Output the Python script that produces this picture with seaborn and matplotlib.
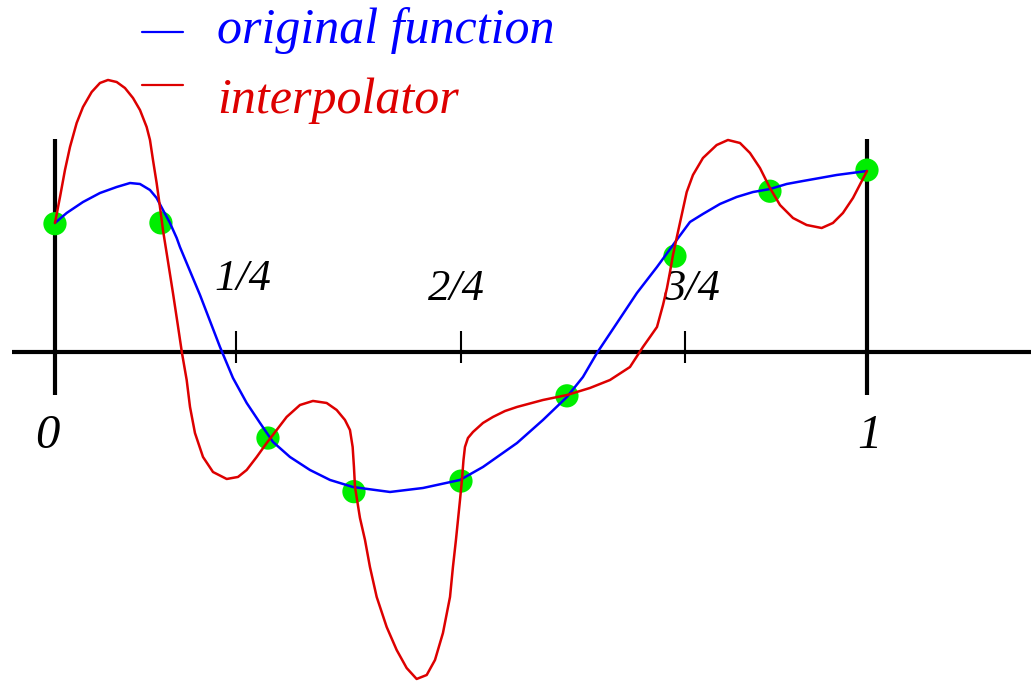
import matplotlib
matplotlib.use("Agg")
import matplotlib.pyplot as plt
import pandas as pd
import seaborn as sns

# Sample nodes (x in units of the interval [0, 1], y on the same scale)
node_x = [0.0, 0.1305, 0.2623, 0.3682, 0.5, 0.6305, 0.7635, 0.8805, 1.0]
node_y = [0.158, 0.159, -0.106, -0.172, -0.159, -0.054, 0.118, 0.198, 0.224]

# Original (smooth) function
orig_x = [0.0, 0.0144, 0.0345, 0.0554, 0.0760, 0.0924, 0.1047, 0.1170, 0.1252,
          0.1330, 0.1416, 0.1499, 0.1539, 0.1786, 0.2032, 0.2192, 0.2361, 0.2525,
          0.2685, 0.2894, 0.3140, 0.3387, 0.3670, 0.4126, 0.4532, 0.4988, 0.5271,
          0.5690, 0.6010, 0.6305, 0.6502, 0.6675, 0.6921, 0.7167, 0.7414, 0.7656,
          0.7820, 0.7980, 0.8190, 0.8395, 0.8596, 0.8805, 0.9011, 0.9212, 0.9421,
          0.9627, 1.0]
orig_y = [0.1589, 0.1712, 0.1847, 0.1958, 0.2032, 0.2081, 0.2069, 0.1995, 0.1897,
          0.1749, 0.1589, 0.1404, 0.1293, 0.0702, 0.0062, -0.0320, -0.0628, -0.0874,
          -0.1108, -0.1293, -0.1453, -0.1576, -0.1663, -0.1724, -0.1675, -0.1576, -0.1416,
          -0.1121, -0.0837, -0.0554, -0.0308, -0.0012, 0.0357, 0.0727, 0.1047, 0.1379,
          0.1601, 0.1700, 0.1823, 0.1909, 0.1970, 0.2007, 0.2069, 0.2106, 0.2143,
          0.2180, 0.2229]

# Interpolating curve through the nodes
interp_x = [0.0, 0.0062, 0.0123, 0.0185, 0.0267, 0.0345, 0.0452, 0.0554, 0.0653,
            0.0760, 0.0862, 0.0961, 0.1047, 0.1129, 0.1170, 0.1207, 0.1252, 0.1293,
            0.1330, 0.1379, 0.1453, 0.1509, 0.1564, 0.1622, 0.1663, 0.1724, 0.1823,
            0.1946, 0.2115, 0.2254, 0.2361, 0.2484, 0.2607, 0.2730, 0.2853, 0.3017,
            0.3177, 0.3346, 0.3469, 0.3571, 0.3633, 0.3666, 0.3682, 0.3695, 0.3756,
            0.3818, 0.3879, 0.3962, 0.4085, 0.4208, 0.4331, 0.4454, 0.4578, 0.4680,
            0.4778, 0.4865, 0.4901, 0.4938, 0.4963, 0.4988, 0.5012, 0.5031, 0.5049,
            0.5086, 0.5148, 0.5271, 0.5394, 0.5542, 0.5690, 0.6010, 0.6305, 0.6589,
            0.6835, 0.7081, 0.7241, 0.7328, 0.7414, 0.7488, 0.7537, 0.7574, 0.7611,
            0.7656, 0.7718, 0.7780, 0.7857, 0.7980, 0.8149, 0.8288, 0.8436, 0.8559,
            0.8682, 0.8805, 0.8929, 0.9089, 0.9257, 0.9442, 0.9581, 0.9704, 0.9828,
            1.0]
interp_y = [0.1589, 0.1909, 0.2241, 0.2525, 0.2820, 0.3017, 0.3202, 0.3313, 0.3350,
            0.3325, 0.3251, 0.3128, 0.2980, 0.2771, 0.2611, 0.2365, 0.2081, 0.1786,
            0.1502, 0.1195, 0.0727, 0.0357, -0.0012, -0.0345, -0.0677, -0.0998, -0.1293,
            -0.1478, -0.1564, -0.1539, -0.1453, -0.1293, -0.1121, -0.0961, -0.0800, -0.0653,
            -0.0603, -0.0628, -0.0714, -0.0837, -0.0961, -0.1170, -0.1416, -0.1663, -0.2044,
            -0.2315, -0.2648, -0.3017, -0.3387, -0.3670, -0.3892, -0.4027, -0.3978, -0.3793,
            -0.3461, -0.3017, -0.2648, -0.2315, -0.2069, -0.1823, -0.1576, -0.1330, -0.1170,
            -0.1059, -0.0985, -0.0874, -0.0800, -0.0727, -0.0677, -0.0591, -0.0530, -0.0443,
            -0.0345, -0.0185, 0.0062, 0.0185, 0.0308, 0.0579, 0.0788, 0.0985, 0.1195,
            0.1404, 0.1687, 0.1970, 0.2180, 0.2389, 0.2549, 0.2611, 0.2574, 0.2451,
            0.2266, 0.2020, 0.1810, 0.1650, 0.1564, 0.1527, 0.1589, 0.1712, 0.1897,
            0.2229]

# Axis decorations
tick_pos = [0.223, 0.5, 0.776]
tick_labels = ["1/4", "2/4", "3/4"]
tick_label_y = [0.0764, 0.064, 0.064]
tick_label_x = [0.2315, 0.4938, 0.7839]
end_labels = ["0", "1"]
end_label_x = [-0.0092, 1.003]

legend_names = ["original function", "interpolator"]

BLUE = "#0000ff"
RED = "#dd0000"
GREEN = "#00ee00"

sns.set_theme(style="white")
plt.rcParams["font.family"] = ["Liberation Serif", "DejaVu Serif"]

fig = plt.figure(figsize=(10.31, 6.81), dpi=100)
ax = fig.add_axes([0, 0, 1, 1])
ax.set_xlim(-0.0677, 1.2020)
ax.set_ylim(-0.4052, 0.4335)
ax.axis("off")

# Number line and the two end posts
ax.plot([-0.053, 1.25], [0, 0], color="black", lw=3.0, solid_capstyle="butt", zorder=1)
for xe in (0.0, 1.0):
    ax.plot([xe, xe], [-0.053, 0.262], color="black", lw=3.0, solid_capstyle="butt", zorder=1)
ax.vlines(tick_pos, -0.0135, 0.026, color="black", lw=1.5, zorder=1)

for lab, tx, ty in zip(tick_labels, tick_label_x, tick_label_y):
    ax.text(tx, ty, lab, fontsize=32, style="italic", ha="center", va="baseline", color="black")
for lab, tx in zip(end_labels, end_label_x):
    ax.text(tx, -0.118, lab, fontsize=35, style="italic", ha="center", va="baseline", color="black")

# Nodes
nodes = pd.DataFrame({"x": node_x, "y": node_y})
sns.scatterplot(data=nodes, x="x", y="y", ax=ax, color=GREEN, s=280,
                edgecolor="none", linewidth=0, zorder=2, legend=False)

# Curves
orig = pd.DataFrame({"x": orig_x, "y": orig_y})
interp = pd.DataFrame({"x": interp_x, "y": interp_y})
sns.lineplot(data=orig, x="x", y="y", ax=ax, color=BLUE, lw=1.8,
             estimator=None, sort=False, zorder=3)
sns.lineplot(data=interp, x="x", y="y", ax=ax, color=RED, lw=1.8,
             estimator=None, sort=False, zorder=4)

# Key
ax.plot([0.107, 0.158], [0.394, 0.394], color=BLUE, lw=1.6)
ax.plot([0.107, 0.158], [0.329, 0.329], color=RED, lw=1.6)
ax.text(0.1995, 0.3805, legend_names[0], fontsize=36, style="italic", color=BLUE,
        ha="left", va="baseline")
ax.text(0.1995, 0.2943, legend_names[1], fontsize=36, style="italic", color=RED,
        ha="left", va="baseline")

ax.set_xlabel("")
ax.set_ylabel("")
fig.savefig("out.png", dpi=100, facecolor="white")
